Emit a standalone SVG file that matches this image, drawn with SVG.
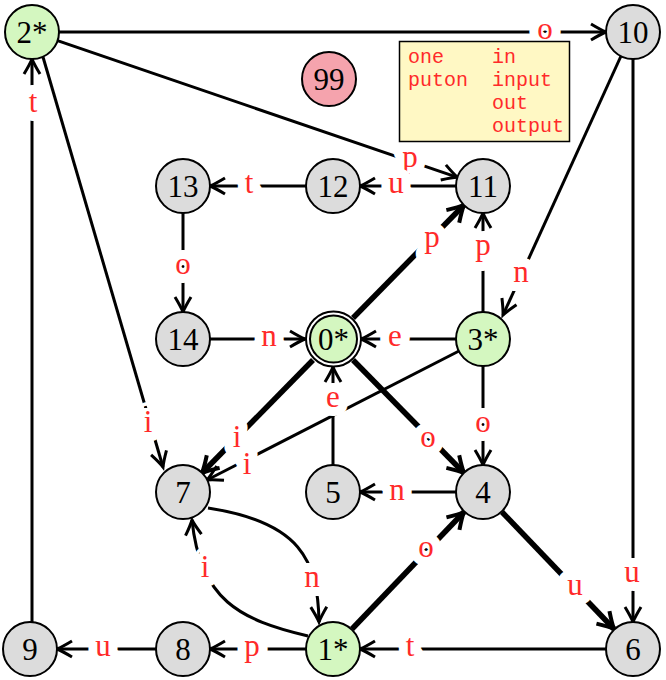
<svg xmlns="http://www.w3.org/2000/svg" width="666" height="680" viewBox="0 0 666 680">
<style>
.e{fill:none;stroke:#000;stroke-width:3;marker-end:url(#ah)}
.t{fill:none;stroke:#000;stroke-width:5.5;marker-end:url(#ahb)}
.lbl{font-family:"Liberation Serif","DejaVu Serif",serif;font-size:31px;fill:#ff2a2a;text-anchor:middle;stroke:#fff;stroke-width:18;stroke-linejoin:round;paint-order:stroke}
.n circle{stroke:#000;stroke-width:2}
.g{fill:#dcdcdc}
.s{fill:#d4f7c0}
.nl{font-family:"Liberation Serif","DejaVu Serif",serif;font-size:31px;fill:#000;text-anchor:middle}
.bx{font-family:"Liberation Mono","DejaVu Sans Mono",monospace;font-size:20px;fill:#ff2a2a}
</style>
<defs>
<marker id="ah" markerUnits="userSpaceOnUse" orient="auto" markerWidth="30" markerHeight="30" viewBox="-20 -15 30 30" refX="0" refY="0" overflow="visible">
<path d="M-15,-8 Q-5,-2 0,0 Q-5,2 -15,8" fill="none" stroke="#000" stroke-width="3"/>
</marker>
<marker id="ahb" markerUnits="userSpaceOnUse" orient="auto" markerWidth="30" markerHeight="30" viewBox="-20 -15 30 30" refX="0" refY="0" overflow="visible">
<path d="M-16,-9 Q-5,-2 0,0 Q-5,2 -16,9" fill="none" stroke="#000" stroke-width="4"/>
</marker>
</defs>
<rect width="666" height="680" fill="#fff"/>
<g id="connectors">
<line class="e" x1="59" y1="32" x2="606" y2="32"/>
<line class="e" x1="57.5" y1="40.7" x2="457.5" y2="177.3"/>
<line class="e" x1="43" y1="57" x2="163" y2="467"/>
<line class="e" x1="32" y1="622" x2="32" y2="59"/>
<line class="e" x1="621" y1="56" x2="503" y2="315"/>
<line class="e" x1="633" y1="59" x2="633" y2="622"/>
<line class="e" x1="306" y1="186" x2="210" y2="186"/>
<line class="e" x1="456" y1="186" x2="360" y2="186"/>
<line class="e" x1="183" y1="213" x2="183" y2="312"/>
<line class="e" x1="210" y1="339" x2="305" y2="339"/>
<line class="e" x1="456" y1="339" x2="361" y2="339"/>
<line class="e" x1="483" y1="312" x2="483" y2="213"/>
<line class="t" x1="353" y1="318" x2="464" y2="205"/>
<line class="t" x1="313" y1="360" x2="202" y2="473"/>
<line class="t" x1="353" y1="360" x2="464" y2="473"/>
<line class="e" x1="459" y1="351" x2="207" y2="480"/>
<line class="e" x1="483" y1="366" x2="483" y2="465"/>
<line class="e" x1="333" y1="465" x2="333" y2="367"/>
<line class="e" x1="456" y1="492" x2="360" y2="492"/>
<line class="t" x1="502" y1="512" x2="614" y2="629"/>
<line class="t" x1="352" y1="629" x2="464" y2="512"/>
<line class="e" x1="606" y1="649" x2="360" y2="649"/>
<line class="e" x1="306" y1="649" x2="210" y2="649"/>
<line class="e" x1="156" y1="649" x2="57" y2="649"/>
<path class="e" d="M208,508 C300,522 318,560 319,622"/>
<path class="e" d="M308,636 C240,620 200,600 192,520"/>
<text class="lbl" x="545" y="39">o</text>
<text class="lbl" x="410" y="167">p</text>
<text class="lbl" x="148" y="432">i</text>
<text class="lbl" x="33" y="112">t</text>
<text class="lbl" x="521" y="282">n</text>
<text class="lbl" x="632" y="582">u</text>
<text class="lbl" x="249" y="193">t</text>
<text class="lbl" x="396" y="193">u</text>
<text class="lbl" x="183" y="274">o</text>
<text class="lbl" x="269" y="346">n</text>
<text class="lbl" x="395" y="346">e</text>
<text class="lbl" x="483" y="255">p</text>
<text class="lbl" x="432" y="247">p</text>
<text class="lbl" x="237" y="447">i</text>
<text class="lbl" x="428" y="447">o</text>
<text class="lbl" x="247" y="474">i</text>
<text class="lbl" x="483" y="432">o</text>
<text class="lbl" x="333" y="407">e</text>
<text class="lbl" x="397" y="500">n</text>
<text class="lbl" x="575" y="595">u</text>
<text class="lbl" x="426" y="557">o</text>
<text class="lbl" x="410" y="656">t</text>
<text class="lbl" x="252" y="656">p</text>
<text class="lbl" x="103" y="656">u</text>
<text class="lbl" x="312" y="587">n</text>
<text class="lbl" x="205" y="577">i</text>
</g>
<g id="legend">
<rect x="399.5" y="41.5" width="170" height="100" fill="#fff8c4" stroke="#000" stroke-width="1.5"/>
<text class="bx" x="408" y="63">one</text>
<text class="bx" x="408" y="86">puton</text>
<text class="bx" x="492" y="63">in</text>
<text class="bx" x="492" y="86">input</text>
<text class="bx" x="492" y="109">out</text>
<text class="bx" x="492" y="132">output</text>
</g>
<g id="n2" class="n"><circle class="s" cx="32" cy="32" r="27"/><text class="nl" x="32" y="43">2*</text></g>
<g id="n10" class="n"><circle class="g" cx="633" cy="32" r="27"/><text class="nl" x="633" y="43">10</text></g>
<g id="n99" class="n"><circle cx="329" cy="79" r="27" fill="#f5a3ad"/><text class="nl" x="329" y="90">99</text></g>
<g id="n13" class="n"><circle class="g" cx="183" cy="186" r="27"/><text class="nl" x="183" y="197">13</text></g>
<g id="n12" class="n"><circle class="g" cx="333" cy="186" r="27"/><text class="nl" x="333" y="197">12</text></g>
<g id="n11" class="n"><circle class="g" cx="483" cy="186" r="27"/><text class="nl" x="483" y="197">11</text></g>
<g id="n14" class="n"><circle class="g" cx="183" cy="339" r="27"/><text class="nl" x="183" y="350">14</text></g>
<g id="n0" class="n"><circle cx="333.5" cy="339" r="27.5" fill="#fff"/><circle class="s" cx="333.5" cy="339" r="23.5"/><text class="nl" x="333.5" y="350">0*</text></g>
<g id="n3" class="n"><circle class="s" cx="483" cy="339" r="27"/><text class="nl" x="483" y="350">3*</text></g>
<g id="n7" class="n"><circle class="g" cx="183" cy="492" r="27"/><text class="nl" x="183" y="503">7</text></g>
<g id="n5" class="n"><circle class="g" cx="333" cy="492" r="27"/><text class="nl" x="333" y="503">5</text></g>
<g id="n4" class="n"><circle class="g" cx="483" cy="492" r="27"/><text class="nl" x="483" y="503">4</text></g>
<g id="n9" class="n"><circle class="g" cx="30" cy="649" r="27"/><text class="nl" x="30" y="660">9</text></g>
<g id="n8" class="n"><circle class="g" cx="183" cy="649" r="27"/><text class="nl" x="183" y="660">8</text></g>
<g id="n1" class="n"><circle class="s" cx="333" cy="649" r="27"/><text class="nl" x="333" y="660">1*</text></g>
<g id="n6" class="n"><circle class="g" cx="633" cy="649" r="27"/><text class="nl" x="633" y="660">6</text></g>
</svg>
